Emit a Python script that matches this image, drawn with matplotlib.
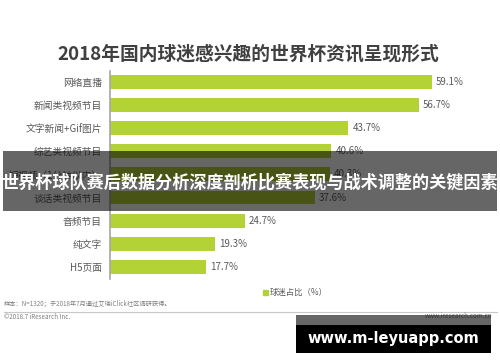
import matplotlib
matplotlib.use("Agg")
import matplotlib.pyplot as plt
from matplotlib.patches import Rectangle
from matplotlib.lines import Line2D

plt.rcParams['font.family'] = ['Noto Sans CJK SC', 'DejaVu Sans']

categories = ["网络直播", "新闻类视频节目", "文字新闻+Gif图片", "综艺类视频节目",
              "短视频（1分钟以内）", "谈话类视频节目", "音频节目", "纯文字", "H5页面"]
values = [59.1, 56.7, 43.7, 40.6, 40.3, 37.6, 24.7, 19.3, 17.7]
title = "2018年国内球迷感兴趣的世界杯资讯呈现形式"
legend_label = "球迷占比（%）"
note = "样本：N=1320；于2018年7月通过艾瑞iClick社区调研获得。"
copyright_text = "©2018.7 iResearch Inc."
site_text = "www.iresearch.com.cn"
banner_text = "世界杯球队赛后数据分析深度剖析比赛表现与战术调整的关键因素"
watermark_text = "www.m-leyuapp.com"

W, H = 500, 362
GREEN = "#b2d235"
GRAY = "#595959"

fig = plt.figure(figsize=(W / 100, H / 100), dpi=100)
fig.patch.set_facecolor("white")


def fx(x):
    return x / W


def fy(y):
    return 1 - y / H


# bar axes: left spine at x=110, spans y=71..279
ax_left, ax_right = 110, 491
ax_top, ax_bot = 71, 279
ax = fig.add_axes([fx(ax_left), fy(ax_bot), (ax_right - ax_left) / W, (ax_bot - ax_top) / H])
pos = list(range(len(categories)))
ax.barh(pos, values, height=0.6, color=GREEN, zorder=2)
ax.set_xlim(0, (ax_right - ax_left) / 5.45)
ax.set_ylim(8.53, -0.48)
ax.set_yticks(pos)
ax.set_yticklabels(categories, fontsize=7, color=GRAY)
ax.tick_params(axis="y", length=0, pad=6)
ax.set_xticks([])
for s in ["top", "right", "bottom"]:
    ax.spines[s].set_visible(False)
ax.spines["left"].set_color("#a6a6a6")
ax.spines["left"].set_linewidth(1.2)
ax.set_facecolor("none")
for p, v in zip(pos, values):
    ax.text(v + 0.75, p, f"{v:.1f}%", va="center", ha="left", fontsize=7, color=GRAY)

# title
fig.text(fx(57), fy(54), title, fontsize=13.5, fontweight="bold", color="#404040",
         ha="left", va="center")

# legend
fig.patches.append(Rectangle((fx(263), fy(294.5)), 4.5 / W, 4.5 / H, transform=fig.transFigure,
                             color=GREEN))
fig.text(fx(270), fy(292), legend_label, fontsize=6, color=GRAY, ha="left", va="center")

# footer
fig.text(fx(4), fy(304), note, fontsize=4.5, color="#808080", ha="left", va="center")
fig.lines.append(Line2D([fx(4), fx(497)], [fy(311.5), fy(311.5)], transform=fig.transFigure,
                        color="#c8c8c8", lw=0.8))
fig.text(fx(4), fy(317), copyright_text, fontsize=4.5, color="#808080", ha="left", va="center")
fig.text(fx(492), fy(316), site_text, fontsize=4.5, color="#808080", ha="right", va="center")

# banner overlay
fig.patches.append(Rectangle((fx(3), fy(211)), 494 / W, 60 / H, transform=fig.transFigure,
                             facecolor="black", alpha=0.6, edgecolor="none", zorder=10))
fig.text(fx(250), fy(183), banner_text, fontsize=12.3, fontweight="bold", color="white",
         ha="center", va="center", zorder=11)

# watermark box
fig.patches.append(Rectangle((fx(296), fy(325)), 195 / W, 10 / H, transform=fig.transFigure,
                             facecolor="black", alpha=0.6, edgecolor="none", zorder=10))
fig.patches.append(Rectangle((fx(296), fy(353)), 195 / W, 28 / H, transform=fig.transFigure,
                             facecolor="black", edgecolor="none", zorder=10))
fig.text(fx(393), fy(338), watermark_text, fontsize=10.5, fontweight="bold", color="white",
         family="DejaVu Sans", ha="center", va="center", zorder=11)

fig.savefig("out.png", dpi=100)
